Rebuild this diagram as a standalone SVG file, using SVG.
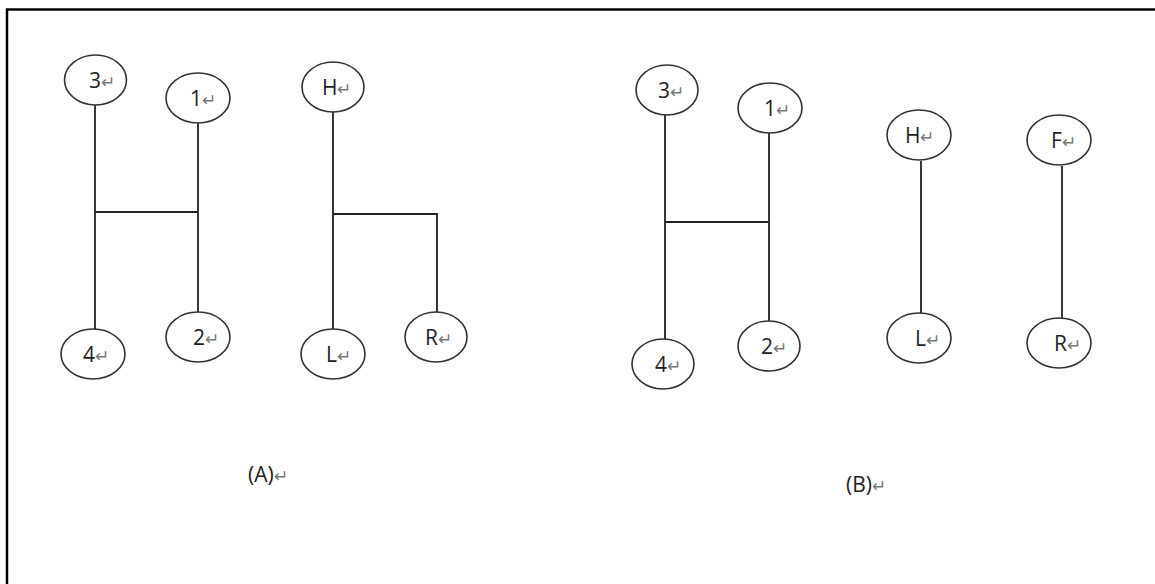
<svg xmlns="http://www.w3.org/2000/svg" width="1155" height="584" viewBox="0 0 1155 584">
<style>
.n ellipse{fill:#fff;stroke:#333;stroke-width:1.6}
.n text,.lab{font-family:"Open Sans","Liberation Sans",sans-serif;font-size:21px;fill:#222}
.r{font-size:17px;fill:#777}
#connectors path{fill:none;stroke:#222;stroke-width:1.8}
.frame{fill:none;stroke:#000;stroke-width:2.5}
</style>
<rect width="1155" height="584" fill="#fff"/>
<path class="frame" d="M7,584 V9.5 H1155"/>
<g id="connectors">
<path d="M95,105 V329"/>
<path d="M198,123 V312"/>
<path d="M95,212 H198"/>
<path d="M333,112 V330"/>
<path d="M333,214 H437 V312"/>
<path d="M665,115 V339"/>
<path d="M769,133 V321"/>
<path d="M665,222 H769"/>
<path d="M921,161 V313"/>
<path d="M1062,166 V318"/>
</g>
<g id="nA3" class="n"><ellipse cx="95.5" cy="80" rx="31" ry="25"/><text x="89" y="88">3<tspan class="r">↵</tspan></text></g>
<g id="nA1" class="n"><ellipse cx="198" cy="98" rx="32" ry="25"/><text x="190" y="106">1<tspan class="r">↵</tspan></text></g>
<g id="nA4" class="n"><ellipse cx="93" cy="354" rx="32" ry="25"/><text x="83" y="362">4<tspan class="r">↵</tspan></text></g>
<g id="nA2" class="n"><ellipse cx="198" cy="337" rx="32" ry="25"/><text x="193" y="345">2<tspan class="r">↵</tspan></text></g>
<g id="nAH" class="n"><ellipse cx="333" cy="87" rx="31" ry="25"/><text x="322" y="95">H<tspan class="r">↵</tspan></text></g>
<g id="nAL" class="n"><ellipse cx="333" cy="354" rx="32" ry="25"/><text x="326" y="362">L<tspan class="r">↵</tspan></text></g>
<g id="nAR" class="n"><ellipse cx="436" cy="337" rx="31" ry="25"/><text x="425" y="345">R<tspan class="r">↵</tspan></text></g>
<g id="nB3" class="n"><ellipse cx="667" cy="90" rx="31" ry="25"/><text x="658" y="98">3<tspan class="r">↵</tspan></text></g>
<g id="nB1" class="n"><ellipse cx="770" cy="108" rx="32" ry="25"/><text x="764" y="116">1<tspan class="r">↵</tspan></text></g>
<g id="nB4" class="n"><ellipse cx="663" cy="364" rx="31" ry="25"/><text x="655" y="372">4<tspan class="r">↵</tspan></text></g>
<g id="nB2" class="n"><ellipse cx="769" cy="346" rx="31" ry="25"/><text x="761" y="354">2<tspan class="r">↵</tspan></text></g>
<g id="nBH" class="n"><ellipse cx="919" cy="135" rx="32" ry="25"/><text x="905" y="143">H<tspan class="r">↵</tspan></text></g>
<g id="nBL" class="n"><ellipse cx="919" cy="338" rx="32" ry="25"/><text x="915" y="346">L<tspan class="r">↵</tspan></text></g>
<g id="nBF" class="n"><ellipse cx="1059" cy="140" rx="32" ry="25"/><text x="1051" y="148">F<tspan class="r">↵</tspan></text></g>
<g id="nBR" class="n"><ellipse cx="1059" cy="343" rx="32" ry="25"/><text x="1054" y="351">R<tspan class="r">↵</tspan></text></g>
<text class="lab" x="248" y="482">(A)<tspan class="r">↵</tspan></text>
<text class="lab" x="846" y="492">(B)<tspan class="r">↵</tspan></text>
</svg>
